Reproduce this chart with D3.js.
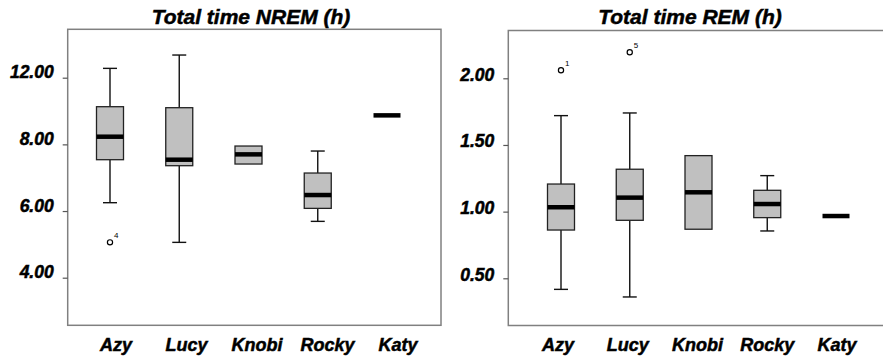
<!DOCTYPE html>
<html>
<head>
<meta charset="utf-8">
<script src="https://cdn.jsdelivr.net/npm/d3@7/dist/d3.min.js"></script>
<style>
  body { margin: 0; background: #fff; }
  text { font-family: "Liberation Sans", Arial, sans-serif; font-weight: bold; font-style: italic; fill: #000; stroke: #000; stroke-width: 0.5px; }
  .frame { fill: none; stroke: #808080; stroke-width: 1.5; }
  .tick line { stroke: #555; stroke-width: 1.2; }
  .cat { font-size: 18px; }
  .title { font-size: 21px; }
  .box { fill: #c0c0c0; stroke: #222; stroke-width: 1.3; }
  .whisker { stroke: #111; stroke-width: 1.4; }
  .median { stroke: #000; stroke-width: 4.5; }
  .outlier { fill: #fff; stroke: #000; stroke-width: 1.2; }
  .olabel { font-size: 8px; font-style: normal; font-weight: normal; stroke: none; }
</style>
</head>
<body>
<div class="chart"></div>
<script>
// animals on both panels
var animals = ["Azy", "Lucy", "Knobi", "Rocky", "Katy"];

// Total time NREM (h)
var nremLow  = [6.25, 5.06, null, 5.69, null];
var nremQ1   = [7.54, 7.36, 7.41, 6.08, null];
var nremMed  = [8.23, 7.54, 7.70, 6.48, 8.87];
var nremQ3   = [9.13, 9.10, 7.95, 7.14, null];
var nremHigh = [10.28, 10.68, null, 7.80, null];
var nremOutliers = [{ animal: "Azy", value: 5.06, label: "4" }];
var nremTicks = [4, 6, 8, 10];
var nremTickLabels = ["4.00", "6.00", "8.00", "12.00"];

// Total time REM (h)
var remLow  = [0.417, 0.36, null, 0.855, null];
var remQ1   = [0.862, 0.935, 0.868, 0.955, null];
var remMed  = [1.033, 1.105, 1.145, 1.057, 0.967];
var remQ3   = [1.207, 1.318, 1.42, 1.16, null];
var remHigh = [1.72, 1.74, null, 1.27, null];
var remOutliers = [
    { animal: "Azy", value: 2.06, label: "1" },
    { animal: "Lucy", value: 2.195, label: "5" }
];
var remTicks = [0.5, 1.0, 1.5, 2.0];
var remTickLabels = ["0.50", "1.00", "1.50", "2.00"];

var W = 883, H = 363;
var svg = d3.select(".chart").append("svg")
    .attr("width", W)
    .attr("height", H);

var panels = [
    {
        title: "Total time NREM (h)", titleX: 251,
        left: 67.7, right: 441, top: 29.3, bottom: 325.3, closed: true,
        boxRange: [110, 387], labelRange: [116, 398],
        domain: [4, 10], yRange: [277.7, 77.7], labelDy: 0,
        low: nremLow, q1: nremQ1, med: nremMed, q3: nremQ3, high: nremHigh,
        outliers: nremOutliers, ticks: nremTicks, tickLabels: nremTickLabels
    },
    {
        title: "Total time REM (h)", titleX: 690,
        left: 508.3, right: 890, top: 30.5, bottom: 325.5, closed: false,
        boxRange: [561, 836], labelRange: [558, 837],
        domain: [0.5, 2.0], yRange: [278.3, 78.3], labelDy: 2,
        low: remLow, q1: remQ1, med: remMed, q3: remQ3, high: remHigh,
        outliers: remOutliers, ticks: remTicks, tickLabels: remTickLabels
    }
];

var boxW = 27, capW = 14;

panels.forEach(function (p) {
    var g = svg.append("g");

    var x = d3.scalePoint().domain(animals).range(p.boxRange);
    var xl = d3.scalePoint().domain(animals).range(p.labelRange);
    var y = d3.scaleLinear().domain(p.domain).range(p.yRange);

    // frame
    if (p.closed) {
        g.append("rect").attr("class", "frame")
            .attr("x", p.left).attr("y", p.top)
            .attr("width", p.right - p.left).attr("height", p.bottom - p.top);
    } else {
        g.append("path").attr("class", "frame")
            .attr("d", "M" + p.right + "," + p.top + "H" + p.left + "V" + p.bottom + "H" + p.right);
    }

    // y axis
    var yAxis = d3.axisLeft(y)
        .tickValues(p.ticks)
        .tickSize(5)
        .tickPadding(9)
        .tickFormat(function (d, i) { return p.tickLabels[i]; });
    var ya = g.append("g")
        .attr("transform", "translate(" + p.left + ",0)")
        .call(yAxis)
        .attr("font-family", null)
        .attr("font-size", null);
    ya.select(".domain").remove();
    ya.selectAll("text")
        .attr("dy", null)
        .attr("y", p.labelDy)
        .style("font-family", "'Liberation Sans', Arial, sans-serif")
        .style("font-weight", "bold")
        .style("font-style", "italic")
        .style("font-size", "17.5px")
        .style("fill", "#000");

    // title
    g.append("text").attr("class", "title")
        .attr("x", p.titleX).attr("y", 23.5)
        .attr("text-anchor", "middle")
        .text(p.title);

    // category labels
    g.selectAll(".cat").data(animals).enter().append("text")
        .attr("class", "cat")
        .attr("x", function (d) { return xl(d); })
        .attr("y", 351)
        .attr("text-anchor", "middle")
        .text(function (d) { return d; });

    var rows = animals.map(function (a, i) {
        return { name: a, low: p.low[i], q1: p.q1[i], med: p.med[i], q3: p.q3[i], high: p.high[i] };
    });

    var item = g.selectAll(".item").data(rows).enter().append("g").attr("class", "item");

    // whiskers
    item.filter(function (d) { return d.high != null; }).each(function (d) {
        var s = d3.select(this), cx = x(d.name);
        s.append("line").attr("class", "whisker")
            .attr("x1", cx).attr("x2", cx).attr("y1", y(d.high)).attr("y2", y(d.q3));
        s.append("line").attr("class", "whisker")
            .attr("x1", cx - capW / 2).attr("x2", cx + capW / 2).attr("y1", y(d.high)).attr("y2", y(d.high));
    });
    item.filter(function (d) { return d.low != null; }).each(function (d) {
        var s = d3.select(this), cx = x(d.name);
        s.append("line").attr("class", "whisker")
            .attr("x1", cx).attr("x2", cx).attr("y1", y(d.q1)).attr("y2", y(d.low));
        s.append("line").attr("class", "whisker")
            .attr("x1", cx - capW / 2).attr("x2", cx + capW / 2).attr("y1", y(d.low)).attr("y2", y(d.low));
    });

    // boxes
    item.filter(function (d) { return d.q1 != null; }).append("rect")
        .attr("class", "box")
        .attr("x", function (d) { return x(d.name) - boxW / 2; })
        .attr("width", boxW)
        .attr("y", function (d) { return y(d.q3); })
        .attr("height", function (d) { return y(d.q1) - y(d.q3); });

    // medians
    item.append("line").attr("class", "median")
        .attr("x1", function (d) { return x(d.name) - boxW / 2; })
        .attr("x2", function (d) { return x(d.name) + boxW / 2; })
        .attr("y1", function (d) { return y(d.med); })
        .attr("y2", function (d) { return y(d.med); });

    // outliers
    var o = g.selectAll(".out").data(p.outliers).enter().append("g");
    o.append("circle").attr("class", "outlier")
        .attr("r", 2.6)
        .attr("cx", function (d) { return x(d.animal); })
        .attr("cy", function (d) { return y(d.value); });
    o.append("text").attr("class", "olabel")
        .attr("x", function (d) { return x(d.animal) + 4; })
        .attr("y", function (d) { return y(d.value) - 4; })
        .text(function (d) { return d.label; });
});
</script>
</body>
</html>
